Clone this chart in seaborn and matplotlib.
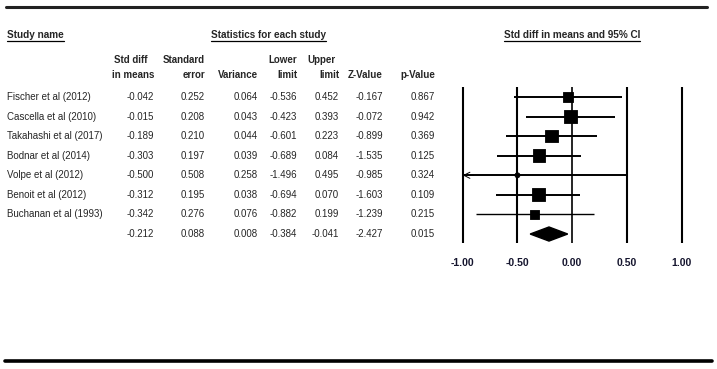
import matplotlib
matplotlib.use("Agg")
import matplotlib.pyplot as plt
import matplotlib.transforms as mtransforms
from matplotlib.lines import Line2D
import seaborn as sns
import pandas as pd

# study data
names = ["Fischer et al (2012)", "Cascella et al (2010)", "Takahashi et al (2017)",
         "Bodnar et al (2014)", "Volpe et al (2012)", "Benoit et al (2012)",
         "Buchanan et al (1993)"]
smd = [-0.042, -0.015, -0.189, -0.303, -0.500, -0.312, -0.342]
se = [0.252, 0.208, 0.210, 0.197, 0.508, 0.195, 0.276]
var = [0.064, 0.043, 0.044, 0.039, 0.258, 0.038, 0.076]
lower = [-0.536, -0.423, -0.601, -0.689, -1.496, -0.694, -0.882]
upper = [0.452, 0.393, 0.223, 0.084, 0.495, 0.070, 0.199]
zval = [-0.167, -0.072, -0.899, -1.535, -0.985, -1.603, -1.239]
pval = [0.867, 0.942, 0.369, 0.125, 0.324, 0.109, 0.215]

# pooled
summary = [-0.212, 0.088, 0.008, -0.384, -0.041, -2.427, 0.015]

ticks = [-1.0, -0.5, 0.0, 0.5, 1.0]
tick_labels = ["-1.00", "-0.50", "0.00", "0.50", "1.00"]

sns.set_style("white")
plt.rcParams['font.family'] = ['Liberation Sans', 'DejaVu Sans']

W, H = 717, 369
fig = plt.figure(figsize=(W / 100, H / 100), dpi=100)

# forest axes: x=-1 -> 462.7px, x=1 -> 681.7px ; row -1 -> 77.4px, row 8 -> 253.6px
ppu = (681.7 - 462.7) / 2
left_px = 462.7 - 0.1 * ppu
ax = fig.add_axes([left_px / W, (H - 253.6) / H, 2.2 * ppu / W, (253.6 - 77.4) / H])
ax.set_xlim(-1.1, 1.1)
ax.set_ylim(8, -1)
for s in ax.spines.values():
    s.set_visible(False)
ax.set_yticks([])
ax.set_xticks(ticks)
ax.set_xticklabels(tick_labels, fontweight='bold', fontsize=7.5, color='#15152e')
ax.tick_params(axis='x', length=0, pad=3)

n = len(names)
rows = list(range(n))

# reference lines
for t in ticks:
    ax.vlines(t, -0.5, n + 0.45, color='black', lw=1.2 if t == 0 else 1.5, zorder=1)

# CI lines
for i in rows:
    lo = max(lower[i], -1.0)
    lw = 1.0 if i == n - 1 else 1.4
    ax.hlines(i, lo, upper[i], color='black', lw=lw, zorder=2)
    if lower[i] < -1.0:
        # truncated interval: open arrow head at the axis limit
        ax.annotate('', xy=(lo, i), xytext=(lo + 0.1, i),
                    arrowprops=dict(arrowstyle='->', lw=0.7, color='black',
                                    shrinkA=0, shrinkB=0, mutation_scale=11), zorder=2)

df = pd.DataFrame({'smd': smd, 'row': rows, 'w': [1 / v for v in var],
                   'mk': ['ci' if l < -1 else 'sq' for l in lower]})
wmax = df['w'].max()
sns.scatterplot(data=df, x='smd', y='row', size='w', sizes=(0, 3.3 * wmax),
                size_norm=(0, wmax), style='mk', markers={'sq': 's', 'ci': 'o'},
                color='black', edgecolor='black', linewidth=0.6, legend=False,
                ax=ax, zorder=3)
ax.set_xlabel('')
ax.set_ylabel('')

# summary diamond
h = 0.36
ax.fill([summary[3], summary[0], summary[4], summary[0]],
        [n, n - h, n, n + h], color='black', zorder=3)

# table text
tr = mtransforms.blended_transform_factory(fig.transFigure, ax.transData)
col_right = [154, 205, 258, 297, 339, 383, 435]
fs = 7
for i in rows:
    ax.text(7 / W, i, names[i], transform=tr, ha='left', va='center', fontsize=fs)
    vals = [smd[i], se[i], var[i], lower[i], upper[i], zval[i], pval[i]]
    for x, v in zip(col_right, vals):
        ax.text(x / W, i, f"{v:.3f}", transform=tr, ha='right', va='center', fontsize=fs)
for x, v in zip(col_right, summary):
    ax.text(x / W, n, f"{v:.3f}", transform=tr, ha='right', va='center', fontsize=fs)

# column headers
hdr1 = [("Std diff", 131, 'center'), ("Standard", 205, 'right'), ("Lower", 297, 'right'),
        ("Upper", 335, 'right')]
hdr2 = [("in means", 154, 'right'), ("error", 205, 'right'), ("Variance", 258, 'right'),
        ("limit", 297, 'right'), ("limit", 339, 'right'), ("Z-Value", 383, 'right'),
        ("p-Value", 435, 'right')]
for t, x, ha in hdr1:
    fig.text(x / W, 1 - 60 / H, t, ha=ha, va='center', fontsize=fs, fontweight='bold')
for t, x, ha in hdr2:
    fig.text(x / W, 1 - 75 / H, t, ha=ha, va='center', fontsize=fs, fontweight='bold')

titles = [fig.text(7 / W, 1 - 35 / H, "Study name", ha='left', va='center', fontsize=7.2, fontweight='bold'),
          fig.text(268.5 / W, 1 - 35 / H, "Statistics for each study", ha='center', va='center', fontsize=7.2, fontweight='bold'),
          fig.text(572 / W, 1 - 35 / H, "Std diff in means and 95% CI", ha='center', va='center', fontsize=7.2, fontweight='bold')]

# underline titles
fig.canvas.draw()
r = fig.canvas.get_renderer()
for t in titles:
    bb = t.get_window_extent(r)
    y = bb.y0 - 1.0
    fig.add_artist(Line2D([bb.x0 / W, bb.x1 / W], [y / H, y / H], color='black', lw=0.9))

# top and bottom rules
fig.add_artist(Line2D([6 / W, 707 / W], [1 - 7 / H, 1 - 7 / H], color='#222222', lw=2.2))
fig.add_artist(Line2D([5 / W, 712 / W], [1 - 361 / H, 1 - 361 / H], color='black', lw=2.6))

fig.savefig("out.png", dpi=100, facecolor='white')
